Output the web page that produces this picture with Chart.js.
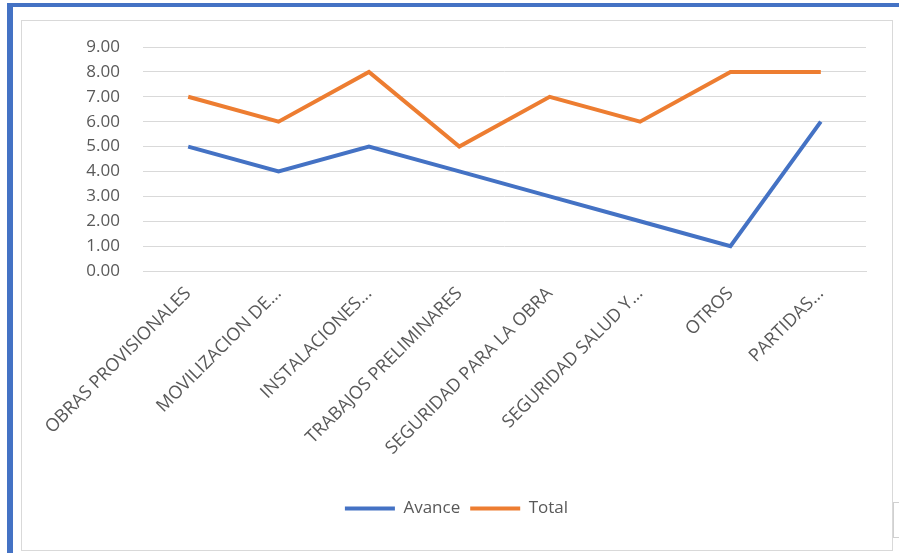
<!DOCTYPE html>
<html>
<head>
<meta charset="utf-8">
<script src="https://cdn.jsdelivr.net/npm/chart.js@4"></script>
<style>
  body { margin: 0; background: #fff; width: 899px; height: 553px; overflow: hidden; position: relative; font-family: "Open Sans", sans-serif; }
  .frame-top { position: absolute; left: 7px; top: 3px; width: 892px; height: 4px; background: #4472C4; }
  .frame-left { position: absolute; left: 7px; top: 3px; width: 6px; height: 550px; background: #4472C4; }
  .box { position: absolute; left: 21px; top: 20px; width: 870px; height: 529px; border: 1px solid #D9D9D9; }
  .handle { position: absolute; left: 893px; top: 502px; width: 8px; height: 34px; border: 1px solid #D0D0D0; }
  #chartWrap { position: absolute; left: 21px; top: 20px; width: 871px; height: 530px; }
</style>
</head>
<body>
<div class="frame-top"></div>
<div class="frame-left"></div>
<div class="box"></div>
<div class="handle"></div>
<div id="chartWrap"><canvas id="avanceChart" width="871" height="530"></canvas></div>
<script>
const categorias = ['OBRAS PROVISIONALES', 'MOVILIZACION DE...', 'INSTALACIONES...', 'TRABAJOS PRELIMINARES',
    'SEGURIDAD PARA LA OBRA', 'SEGURIDAD SALUD Y...', 'OTROS', 'PARTIDAS...'];
const avance = [5, 4, 5, 4, 3, 2, 1, 6];
const total = [7, 6, 8, 5, 7, 6, 8, 8];

const gris = '#595959';
const fuente = { family: '"Open Sans", sans-serif', size: 17 };

new Chart(document.getElementById('avanceChart'), {
    type: 'line',
    data: {
        labels: categorias,
        datasets: [{
            label: 'Avance',
            data: avance,
            borderColor: '#4472C4',
            backgroundColor: '#4472C4',
            borderWidth: 4,
            pointRadius: 0,
            tension: 0
        }, {
            label: 'Total',
            data: total,
            borderColor: '#ED7D31',
            backgroundColor: '#ED7D31',
            borderWidth: 4,
            pointRadius: 0,
            tension: 0
        }]
    },
    options: {
        responsive: false,
        animation: false,
        layout: { padding: { left: 26, right: 26, top: 27, bottom: 23 } },
        plugins: {
            tooltip: { enabled: false },
            legend: {
                position: 'bottom',
                labels: {
                    usePointStyle: true,
                    pointStyle: 'line',
                    pointStyleWidth: 50,
                    color: gris,
                    font: fuente,
                    padding: 10
                }
            }
        },
        scales: {
            x: {
                offset: true,
                grid: { display: false, drawTicks: false },
                border: { color: '#D9D9D9' },
                ticks: {
                    autoSkip: false,
                    minRotation: 45,
                    maxRotation: 45,
                    padding: 12,
                    color: gris,
                    font: { family: '"Open Sans", sans-serif', size: 18 }
                },
                afterFit: (scale) => { scale.height = 219; }
            },
            y: {
                min: 0,
                max: 9,
                ticks: {
                    stepSize: 1,
                    padding: 23,
                    color: gris,
                    font: fuente,
                    callback: (v) => Number(v).toFixed(2)
                },
                grid: { color: '#D9D9D9', drawTicks: false },
                border: { display: false },
                afterFit: (scale) => {
                    scale.width = 96;
                    scale.paddingTop = 12;
                    scale.paddingBottom = 12;
                }
            }
        }
    }
});
</script>
</body>
</html>
